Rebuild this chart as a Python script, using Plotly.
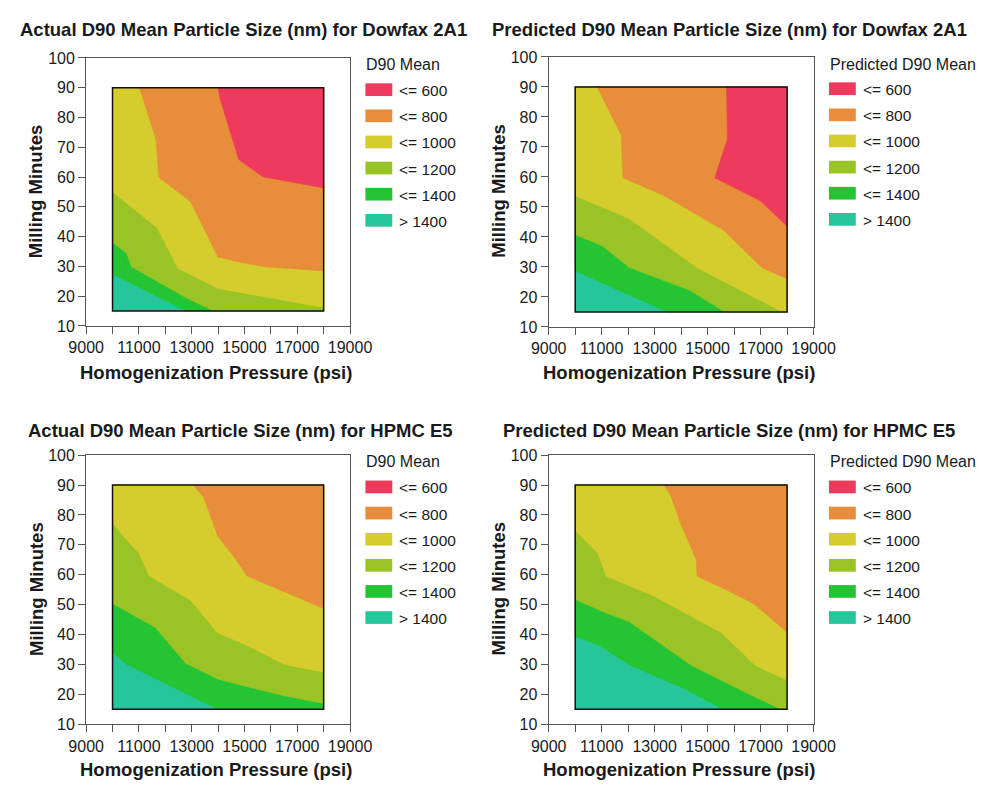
import plotly.graph_objects as go

# ---------------- data ----------------
PRESSURE_EXTENT = [10000, 18000]   # psi, extent of the contoured design region
MINUTES_EXTENT = [15, 90]          # milling minutes
LEVEL_LABELS = ["<= 600", "<= 800", "<= 1000", "<= 1200", "<= 1400", "> 1400"]
X_TICKS = [9000, 10000, 11000, 12000, 13000, 14000, 15000, 16000, 17000, 18000, 19000]
X_TICK_TEXT = ["9000", "", "11000", "", "13000", "", "15000", "", "17000", "", "19000"]
Y_TICKS = [10, 20, 30, 40, 50, 60, 70, 80, 90, 100]

TITLES = [
    "Actual D90 Mean Particle Size (nm) for Dowfax 2A1",
    "Predicted D90 Mean Particle Size (nm) for Dowfax 2A1",
    "Actual D90 Mean Particle Size (nm) for HPMC E5",
    "Predicted D90 Mean Particle Size (nm) for HPMC E5",
]
LEGEND_TITLES = ["D90 Mean", "Predicted D90 Mean", "D90 Mean", "Predicted D90 Mean"]

# contour boundaries (pressure, minutes); region "above/right" of each line is <= level
DOWFAX_ACTUAL_600 = [(14000, 90), (14080, 86.1), (14780, 65.9), (15690, 60.1), (18000, 56.3)]
DOWFAX_ACTUAL_800 = [(11020, 90), (11650, 72.5), (11750, 59.9), (12960, 51.7), (13990, 33.2),
                     (14780, 31.5), (15750, 29.9), (18000, 28.5)]
DOWFAX_ACTUAL_1000 = [(10000, 55.0), (11690, 43.0), (12480, 29.3), (13990, 22.6), (17600, 16.8), (18000, 16.4)]
DOWFAX_ACTUAL_1200 = [(10000, 38.1), (10540, 34.3), (10720, 29.9), (12780, 19.5), (13840, 15)]
DOWFAX_ACTUAL_1400 = [(10000, 27.4), (12780, 15)]

DOWFAX_PRED_600 = [(15710, 90), (15750, 72.8), (15270, 59.7), (16980, 52.1), (18000, 43.6)]
DOWFAX_PRED_800 = [(10830, 90), (11740, 73.9), (11800, 59.7), (13360, 53.7), (15590, 42.3),
                   (17040, 29.8), (18000, 26.0)]
DOWFAX_PRED_1000 = [(10000, 53.7), (12040, 46.1), (14630, 29.6), (17820, 15)]
DOWFAX_PRED_1200 = [(10000, 40.7), (11010, 37.1), (12040, 29.8), (14330, 22.2), (15650, 15)]
DOWFAX_PRED_1400 = [(10000, 28.7), (13480, 15)]

HPMC_ACTUAL_600 = []
HPMC_ACTUAL_800 = [(13060, 90), (13450, 86.0), (13990, 72.9), (14660, 65.3), (15090, 59.6), (18000, 48.7)]
HPMC_ACTUAL_1000 = [(10000, 77.3), (10540, 71.6), (11000, 67.2), (11390, 59.6), (12960, 51.4),
                    (13990, 40.5), (15020, 36.7), (16540, 29.9), (18000, 27.4)]
HPMC_ACTUAL_1200 = [(10000, 50.4), (11630, 42.3), (12780, 30.3), (13990, 25.1), (15020, 22.7),
                    (16540, 19.4), (18000, 16.9)]
HPMC_ACTUAL_1400 = [(10000, 34.0), (10540, 30.0), (13990, 15)]

HPMC_PRED_600 = []
HPMC_PRED_800 = [(13340, 90), (13600, 86.7), (13990, 76.9), (14570, 65.0), (14600, 59.5),
                 (15530, 55.7), (16740, 50.3), (18000, 40.8)]
HPMC_PRED_1000 = [(10000, 74.8), (10860, 67.1), (11170, 59.5), (12940, 53.0), (14080, 47.5),
                  (15530, 40.5), (16800, 29.6), (18000, 24.7)]
HPMC_PRED_1200 = [(10000, 51.7), (11070, 47.5), (12040, 44.3), (14390, 29.6), (16740, 19.3), (17760, 15)]
HPMC_PRED_1400 = [(10000, 39.4), (10890, 36.4), (12040, 29.9), (14080, 22.0), (15590, 15)]

PANELS = [
    [DOWFAX_ACTUAL_600, DOWFAX_ACTUAL_800, DOWFAX_ACTUAL_1000, DOWFAX_ACTUAL_1200, DOWFAX_ACTUAL_1400],
    [DOWFAX_PRED_600, DOWFAX_PRED_800, DOWFAX_PRED_1000, DOWFAX_PRED_1200, DOWFAX_PRED_1400],
    [HPMC_ACTUAL_600, HPMC_ACTUAL_800, HPMC_ACTUAL_1000, HPMC_ACTUAL_1200, HPMC_ACTUAL_1400],
    [HPMC_PRED_600, HPMC_PRED_800, HPMC_PRED_1000, HPMC_PRED_1200, HPMC_PRED_1400],
]

# ---------------- styles ----------------
COLORS = ["#EE3A5C", "#E88D3A", "#D4CD2D", "#9AC425", "#24C433", "#27C69A"]
FONT = "Liberation Sans, Arial, sans-serif"
W, H = 992, 788
TEXT = "#1a1a1a"
AXC = "#555555"

# panel plot-area pixel boxes (x0, x1, y0, y1)
BOXES = [(71, 346, 51, 325), (553, 829, 50, 326), (71, 346, 457, 732), (553, 829, 457, 732)]
TITLE_POS = [(235, 22), (741, 22), (232, 432), (741, 432)]
XTITLE_Y = [373, 373, 778, 778]
LEG_TITLE_DY = [7, 8, 6, 6]


def px(x):
    return x / W


def py(y):
    return 1 - y / H


def region(line):
    p0, p1 = PRESSURE_EXTENT
    m0, m1 = MINUTES_EXTENT
    pts = list(line)
    end = pts[-1]
    start = pts[0]
    if end[1] <= m0 and end[0] < p1:
        pts.append((p1, m0))
    pts.append((p1, m1))
    if start[0] <= p0 and start[1] < m1:
        pts.append((p0, m1))
    pts.append(pts[0])
    return [p for p, _ in pts], [m for _, m in pts]


fig = go.Figure()
shapes = []
annotations = []
layout_axes = {}

for i, (bounds, box) in enumerate(zip(PANELS, BOXES)):
    n = "" if i == 0 else str(i + 1)
    xa, ya = "x" + n, "y" + n
    x0, x1, y0, y1 = box
    p0, p1 = PRESSURE_EXTENT
    m0, m1 = MINUTES_EXTENT

    # base band (> 1400)
    fig.add_trace(go.Scatter(x=[p0, p1, p1, p0, p0], y=[m0, m0, m1, m1, m0], fill="toself",
                             fillcolor=COLORS[5], line=dict(width=0), mode="lines",
                             xaxis=xa, yaxis=ya, showlegend=False, hoverinfo="skip"))
    # layered bands, from 1400 down to 600
    for lvl in range(4, -1, -1):
        line = bounds[lvl]
        if not line:
            continue
        xs, ys = region(line)
        fig.add_trace(go.Scatter(x=xs, y=ys, fill="toself", fillcolor=COLORS[lvl],
                                 line=dict(width=0.5, color=COLORS[lvl]), mode="lines",
                                 xaxis=xa, yaxis=ya, showlegend=False, hoverinfo="skip"))
    # data region border
    shapes.append(dict(type="rect", xref=xa, yref=ya, x0=p0, x1=p1, y0=m0, y1=m1,
                       line=dict(color="#111111", width=1.5)))

    axis_common = dict(showgrid=False, zeroline=False, showline=True, mirror=True,
                       linecolor=AXC, linewidth=1.2, ticks="outside", ticklen=7,
                       tickcolor=AXC, tickwidth=1.2,
                       tickfont=dict(family=FONT, size=16, color=TEXT))
    layout_axes["xaxis" + n] = dict(domain=[px(x0), px(x1)], range=[9000, 19000],
                                    tickmode="array", tickvals=X_TICKS, ticktext=X_TICK_TEXT,
                                    anchor=ya, **axis_common)
    layout_axes["yaxis" + n] = dict(domain=[py(y1), py(y0)], range=[10, 100],
                                    tickmode="array", tickvals=Y_TICKS,
                                    anchor=xa, **axis_common)

    # panel title
    tx, ty = TITLE_POS[i]
    annotations.append(dict(text="<b>%s</b>" % TITLES[i], xref="paper", yref="paper",
                            x=px(tx), y=py(ty), xanchor="center", yanchor="middle",
                            showarrow=False, font=dict(family=FONT, size=18.5, color=TEXT)))
    # axis titles
    annotations.append(dict(text="<b>Homogenization Pressure (psi)</b>", xref="paper", yref="paper",
                            x=px((x0 + x1) / 2 - 2), y=py(XTITLE_Y[i]), xanchor="center",
                            yanchor="middle", showarrow=False,
                            font=dict(family=FONT, size=18.5, color=TEXT)))
    annotations.append(dict(text="<b>Milling Minutes</b>", xref="paper", yref="paper",
                            x=px(x0 - 52), y=py((y0 + y1) / 2 - 1), xanchor="center",
                            yanchor="middle", textangle=-90, showarrow=False,
                            font=dict(family=FONT, size=18.5, color=TEXT)))
    # legend (swatches + labels)
    lx = x1 + 16
    annotations.append(dict(text=LEGEND_TITLES[i], xref="paper", yref="paper",
                            x=px(lx - 1), y=py(y0 + LEG_TITLE_DY[i]), xanchor="left",
                            yanchor="middle", showarrow=False,
                            font=dict(family=FONT, size=16, color=TEXT)))
    for k, lab in enumerate(LEVEL_LABELS):
        sy = y0 + 26 + k * 26.7
        shapes.append(dict(type="rect", xref="paper", yref="paper",
                           x0=px(lx), x1=px(lx + 28), y0=py(sy), y1=py(sy + 13),
                           fillcolor=COLORS[k], line=dict(width=0)))
        annotations.append(dict(text=lab, xref="paper", yref="paper",
                                x=px(lx + 33), y=py(sy + 7.5), xanchor="left", yanchor="middle",
                                showarrow=False, font=dict(family=FONT, size=15.5, color=TEXT)))

fig.update_layout(width=W, height=H, margin=dict(l=0, r=0, t=0, b=0),
                  paper_bgcolor="white", plot_bgcolor="white", showlegend=False,
                  shapes=shapes, annotations=annotations, **layout_axes)

fig.write_html("out.html")
